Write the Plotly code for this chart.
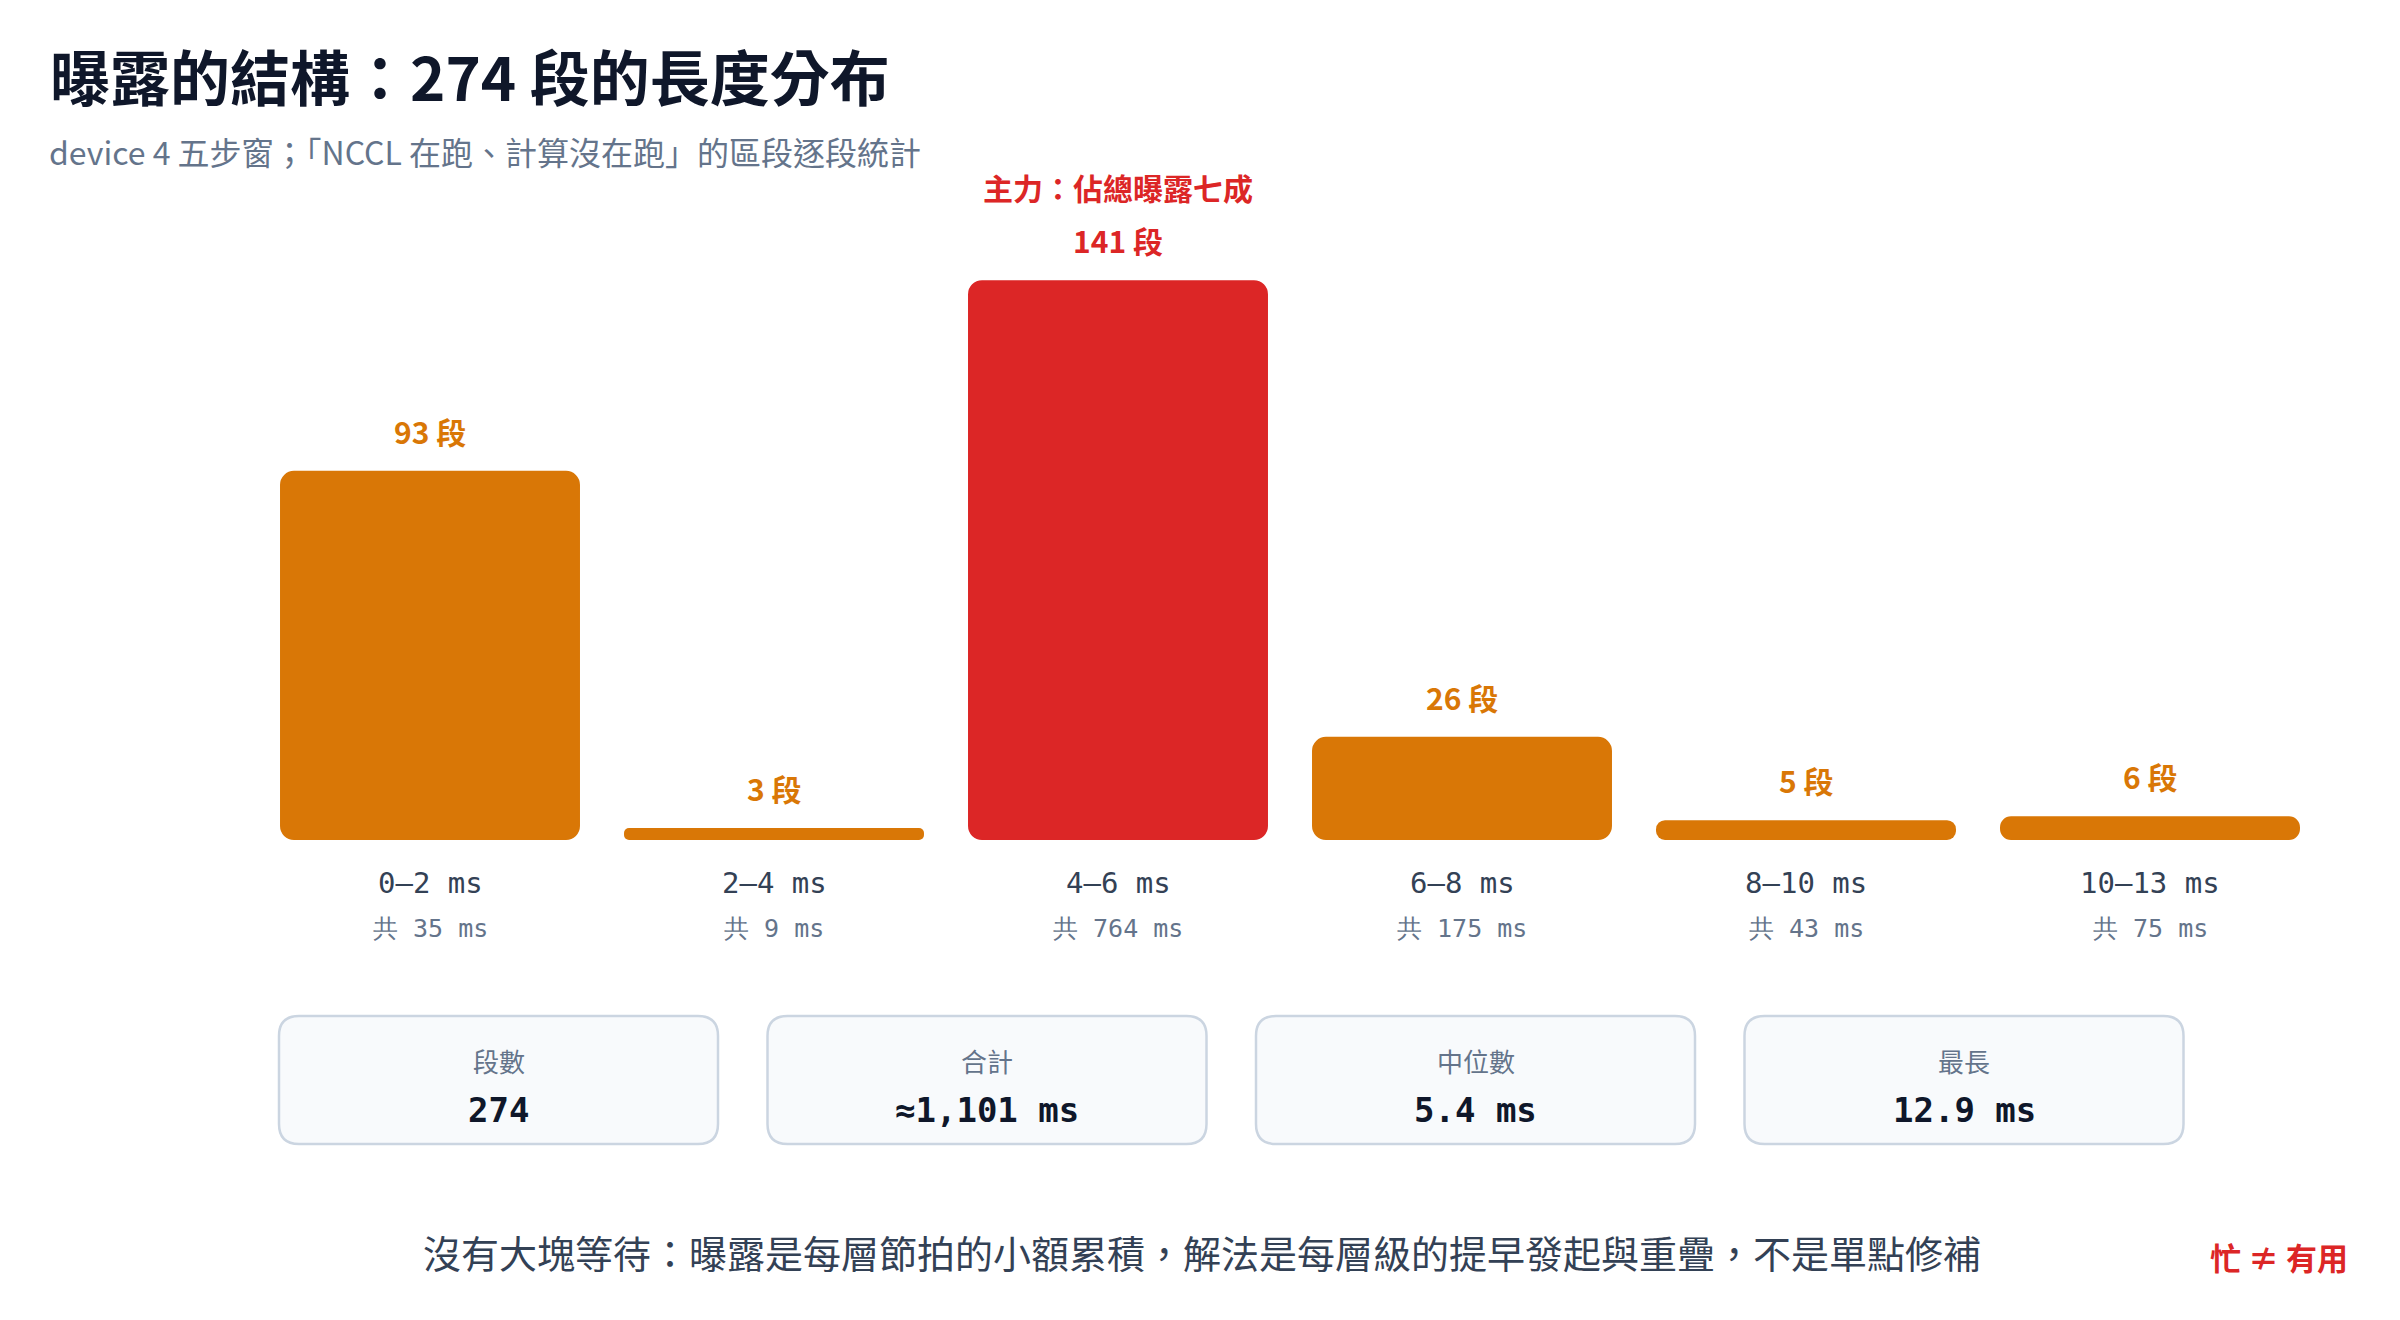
import plotly.graph_objects as go

# data
bins = ["0–2 ms", "2–4 ms", "4–6 ms", "6–8 ms", "8–10 ms", "10–13 ms"]
counts = [93, 3, 141, 26, 5, 6]
totals_ms = [35, 9, 764, 175, 43, 75]
main_note = "主力：佔總曝露七成"

stat_labels = ["段數", "合計", "中位數", "最長"]
stat_values = ["274", "≈1,101 ms", "5.4 ms", "12.9 ms"]

title = "曝露的結構：274 段的長度分布"
subtitle = "device 4 五步窗；「NCCL 在跑、計算沒在跑」的區段逐段統計"
footer = "沒有大塊等待：曝露是每層節拍的小額累積，解法是每層級的提早發起與重疊，不是單點修補"
tag = "忙 ≠ 有用"

W, H = 2400, 1320
ORANGE = "#d97706"
RED = "#dc2626"
CJK = "Noto Sans CJK TC, Noto Sans, sans-serif"
MONO = "DejaVu Sans Mono, monospace"


def px(x):
    return x / W


def py(y):
    return 1 - y / H


def rounded_rect(x0, y0, x1, y1, r):
    # pixel box (top-left origin) -> paper path
    pts = [
        f"M {px(x0 + r)} {py(y0)}",
        f"L {px(x1 - r)} {py(y0)}",
        f"Q {px(x1)} {py(y0)} {px(x1)} {py(y0 + r)}",
        f"L {px(x1)} {py(y1 - r)}",
        f"Q {px(x1)} {py(y1)} {px(x1 - r)} {py(y1)}",
        f"L {px(x0 + r)} {py(y1)}",
        f"Q {px(x0)} {py(y1)} {px(x0)} {py(y1 - r)}",
        f"L {px(x0)} {py(y0 + r)}",
        f"Q {px(x0)} {py(y0)} {px(x0 + r)} {py(y0)}",
        "Z",
    ]
    return " ".join(pts)


peak = counts.index(max(counts))
colors = [RED if i == peak else ORANGE for i in range(len(counts))]

fig = go.Figure()

# explicit base -> plotly rounds both ends of each bar
fig.add_trace(go.Bar(
    x=bins,
    y=counts,
    base=[0] * len(counts),
    width=0.872,
    marker=dict(color=colors, line=dict(width=0), cornerradius=14),
    hoverinfo="skip",
    showlegend=False,
))

annotations = []

# count labels above bars
for i, (b, c) in enumerate(zip(bins, counts)):
    annotations.append(dict(
        x=b, y=c, xref="x", yref="y", text=f"{c} 段", showarrow=False,
        xanchor="center", yanchor="middle", yshift=40,
        font=dict(family=CJK, size=30, color=colors[i], weight="bold"),
    ))
annotations.append(dict(
    x=bins[peak], y=counts[peak], xref="x", yref="y", text=main_note,
    showarrow=False, xanchor="center", yanchor="middle", yshift=93,
    font=dict(family=CJK, size=30, color=RED, weight="bold"),
))

# category labels under bars
for b, t in zip(bins, totals_ms):
    annotations.append(dict(
        x=b, y=py(883), xref="x", yref="paper", text=b, showarrow=False,
        xanchor="center", yanchor="middle",
        font=dict(family=MONO, size=29, color="#334155"),
    ))
    annotations.append(dict(
        x=b, y=py(928), xref="x", yref="paper", text=f"共 {t} ms",
        showarrow=False, xanchor="center", yanchor="middle",
        font=dict(family=MONO, size=25, color="#64748b"),
    ))

# title block
annotations.append(dict(
    x=px(48), y=py(75), xref="paper", yref="paper", text=title,
    showarrow=False, xanchor="left", yanchor="middle",
    font=dict(family=CJK, size=60, color="#0f172a", weight="bold"),
))
annotations.append(dict(
    x=px(47), y=py(151), xref="paper", yref="paper", text=subtitle,
    showarrow=False, xanchor="left", yanchor="middle",
    font=dict(family=CJK, size=32, color="#64748b"),
))

# stat cards
shapes = []
card_w, card_gap = 439, 49.5
card_x0 = 279
for i, (lab, val) in enumerate(zip(stat_labels, stat_values)):
    x0 = card_x0 + i * (card_w + card_gap)
    x1 = x0 + card_w
    shapes.append(dict(
        type="path", xref="paper", yref="paper",
        path=rounded_rect(x0, 1016, x1, 1144, 20),
        fillcolor="#f8fafc", line=dict(color="#cbd5e1", width=2.5),
        layer="below",
    ))
    cx = (x0 + x1) / 2
    annotations.append(dict(
        x=px(cx), y=py(1060), xref="paper", yref="paper", text=lab,
        showarrow=False, xanchor="center", yanchor="middle",
        font=dict(family=CJK, size=26, color="#64748b"),
    ))
    annotations.append(dict(
        x=px(cx), y=py(1110), xref="paper", yref="paper", text=val,
        showarrow=False, xanchor="center", yanchor="middle",
        font=dict(family=MONO, size=34, color="#0f172a", weight="bold"),
    ))

# footer
annotations.append(dict(
    x=px(1202), y=py(1251), xref="paper", yref="paper", text=footer,
    showarrow=False, xanchor="center", yanchor="middle",
    font=dict(family=CJK, size=38, color="#334155"),
))
annotations.append(dict(
    x=px(2350), y=py(1256), xref="paper", yref="paper", text=tag,
    showarrow=False, xanchor="right", yanchor="middle",
    font=dict(family=CJK, size=31, color=RED, weight="bold"),
))

fig.update_layout(
    width=W, height=H,
    margin=dict(l=0, r=0, t=0, b=0),
    paper_bgcolor="white", plot_bgcolor="white",
    xaxis=dict(domain=[px(258), px(2322)], range=[-0.5, 5.5],
               showticklabels=False, showgrid=False, zeroline=False,
               showline=False, ticks="", fixedrange=True),
    yaxis=dict(domain=[py(840), py(244.5)], range=[0, 150],
               showticklabels=False, showgrid=False, zeroline=False,
               showline=False, ticks="", fixedrange=True),
    annotations=annotations,
    shapes=shapes,
    showlegend=False,
)

fig.write_html("out.html", config={"displayModeBar": False},
               post_script="document.body.style.margin='0';")
